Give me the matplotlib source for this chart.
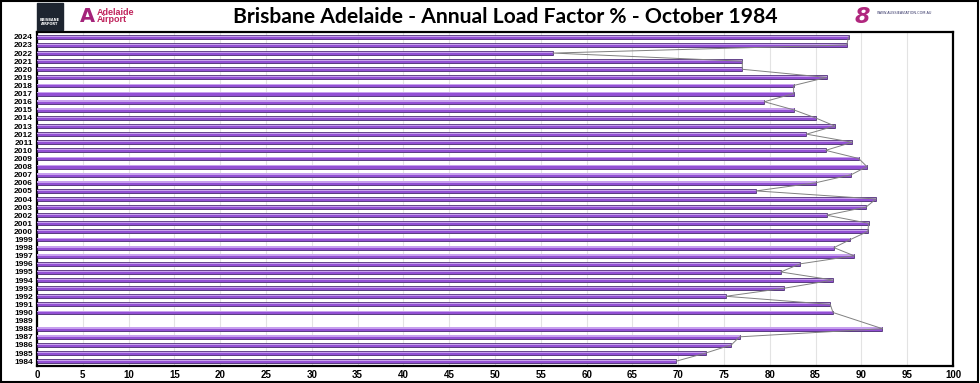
import numpy as np
import matplotlib
matplotlib.use("Agg")
import matplotlib.pyplot as plt
from matplotlib.patches import Rectangle

# --- data ---
years = list(range(1984, 2025))
load_factor = [69.8, 73.0, 75.8, 76.7, 92.3, None, 86.9, 86.6, 75.2, 81.6,
               86.9, 81.2, 83.3, 89.2, 87.0, 88.8, 90.7, 90.8, 86.2, 90.5,
               91.6, 78.5, 85.0, 88.9, 90.6, 89.7, 86.1, 89.0, 84.0, 87.1,
               85.0, 82.6, 79.4, 82.6, 82.6, 86.2, 77.0, 77.0, 56.3, 88.4,
               88.6]
x_ticks = list(range(0, 101, 5))
title = "Brisbane Adelaide - Annual Load Factor % - October 1984"

fig = plt.figure(figsize=(9.8, 3.83), dpi=100)
ax = fig.add_axes([37 / 980, 1 - 366 / 383, (953 - 37) / 980, (366 - 32) / 383])

ypos = np.arange(len(years))
vals = np.array([np.nan if v is None else v for v in load_factor])
has = ~np.isnan(vals)

# shadow, bar body, highlight
ax.barh(ypos[has] - 0.2, vals[has], height=0.32, color="#b5b5b5", zorder=2)
ax.barh(ypos[has], vals[has], height=0.48, color="#9350d4",
        edgecolor="#3d1f66", linewidth=0.5, zorder=3)
ax.barh(ypos[has] + 0.09, vals[has], height=0.15, color="#c7a0ee",
        linewidth=0, zorder=4)

# thin line joining the bar ends
ax.plot(vals[has], ypos[has], color="#808080", linewidth=0.7, zorder=5)

ax.set_xlim(0, 100)
ax.set_ylim(-0.6, len(years) - 0.4)
ax.set_xticks(x_ticks)
ax.set_xticklabels([str(t) for t in x_ticks], fontsize=7, fontweight="bold",
                   family="Liberation Sans")
ax.set_yticks(ypos)
ax.set_yticklabels([str(y) for y in years], fontsize=6, fontweight="bold",
                   family="Liberation Sans")
ax.tick_params(axis="both", length=0, pad=3)
ax.grid(axis="x", color="#e3e3e3", linewidth=0.8, zorder=0)
for s in ax.spines.values():
    s.set_linewidth(1.6)
    s.set_color("black")

fig.text(505 / 980, 1 - 17 / 383, title, ha="center", va="center",
         fontsize=15.2, fontweight="bold", family="Lato")

# logos (approximations as text)
fig.patches.append(Rectangle((37 / 980, 1 - 30 / 383), 26 / 980, 27 / 383,
                             transform=fig.transFigure, color="#1e2530"))
fig.text(50 / 980, 1 - 22 / 383, "BRISBANE\nAIRPORT", ha="center", va="center",
         fontsize=2.5, color="white", fontweight="bold")
fig.text(97 / 980, 1 - 16 / 383, "Adelaide\nAirport", ha="left", va="center",
         fontsize=6.5, color="#c0245c", fontweight="bold", linespacing=0.85,
         family="Liberation Sans")
fig.text(80 / 980, 1 - 16 / 383, "A", ha="left", va="center",
         fontsize=14, color="#a4237a", fontweight="bold")
fig.text(862 / 980, 1 - 17 / 383, "8", ha="center", va="center",
         fontsize=16, color="#b0277e", fontweight="bold", style="italic")
fig.text(877 / 980, 1 - 13 / 383, "WWW.AUSSIEAVIATION.COM.AU", ha="left",
         va="center", fontsize=2.5, color="#333366")

# outer border
fig.patches.append(Rectangle((0.001, 0.002), 0.997, 0.995, transform=fig.transFigure,
                             fill=False, edgecolor="black", linewidth=1.5))

fig.savefig("out.png", dpi=100)
